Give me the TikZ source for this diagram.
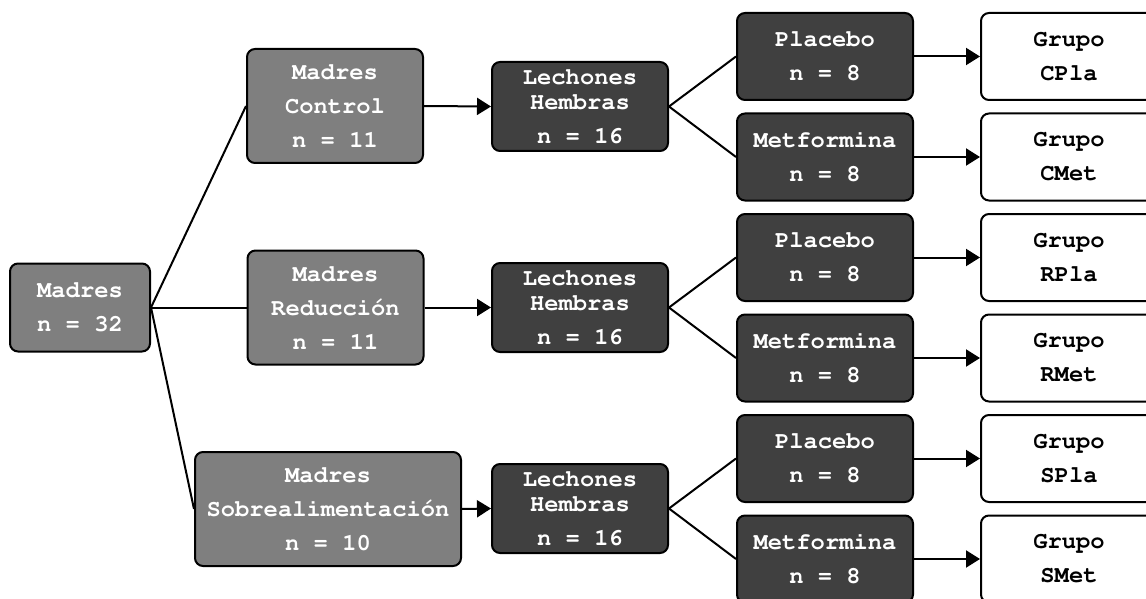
\documentclass[tikz,border=0pt]{standalone}
\usepackage[T1]{fontenc}
\usepackage{courier}
\usetikzlibrary{arrows.meta}
\definecolor{madgray}{RGB}{127,127,127}
\definecolor{darkbox}{RGB}{64,64,64}
\tikzset{
  boxbase/.style={draw=black, line width=2pt, rounded corners=8pt, inner sep=0pt, align=center,
    font=\fontsize{23.8}{34}\selectfont\ttfamily\bfseries},
  madbox/.style={boxbase, fill=madgray, text=white},
  darkbx/.style={boxbase, fill=darkbox, text=white},
  grpbox/.style={boxbase, fill=white, text=black},
  conn/.style={line width=2pt},
  arr/.style={line width=2pt, -{Triangle[length=14pt,width=17pt]}}
}
\begin{document}
\begin{tikzpicture}[x=1pt,y=-1pt]
\useasboundingbox (0,0) rectangle (1146,599);
\node[madbox, minimum width=140pt, minimum height=88pt] (mom) at (80,307.5) {Madres\\n = 32};
\node[madbox, minimum width=176pt, minimum height=114pt] (ctrl) at (335,106) {Madres\\Control\\n = 11};
\node[madbox, minimum width=176pt, minimum height=114pt] (red) at (335.5,307.5) {Madres\\Reducci\'on\\n = 11};
\node[madbox, minimum width=266pt, minimum height=114pt] (sob) at (328,509) {Madres\\Sobrealimentaci\'on\\n = 10};
\foreach \i/\y in {1/106.5,2/307.5,3/508.5}{
  \node[darkbx, minimum width=176pt, minimum height=89pt] (lech\i) at (580,\y) {Lechones\\[-9pt]Hembras\\n = 16};
}
\foreach \i/\yp/\ym/\g in {1/56.5/157/C,2/257.5/358/R,3/458.5/559/S}{
  \node[darkbx, minimum width=176pt, minimum height=87pt] (pla\i) at (825,\yp) {Placebo\\n = 8};
  \node[darkbx, minimum width=176pt, minimum height=87pt] (met\i) at (825,\ym) {Metformina\\n = 8};
  \node[grpbox, minimum width=176pt, minimum height=87pt] (gpla\i) at (1069,\yp) {Grupo\\\g Pla};
  \node[grpbox, minimum width=176pt, minimum height=87pt] (gmet\i) at (1069,\ym) {Grupo\\\g Met};
  \draw[conn] (lech\i.east) -- (pla\i.west);
  \draw[conn] (lech\i.east) -- (met\i.west);
  \draw[arr] (pla\i.east) -- (gpla\i.west);
  \draw[arr] (met\i.east) -- (gmet\i.west);
}
\draw[conn] (mom.east) -- (ctrl.west);
\draw[conn] (mom.east) -- (red.west);
\draw[conn] (mom.east) -- (sob.west);
\draw[arr] (ctrl.east) -- (lech1.west);
\draw[arr] (red.east) -- (lech2.west);
\draw[arr] (sob.east) -- (lech3.west);
\end{tikzpicture}
\end{document}
